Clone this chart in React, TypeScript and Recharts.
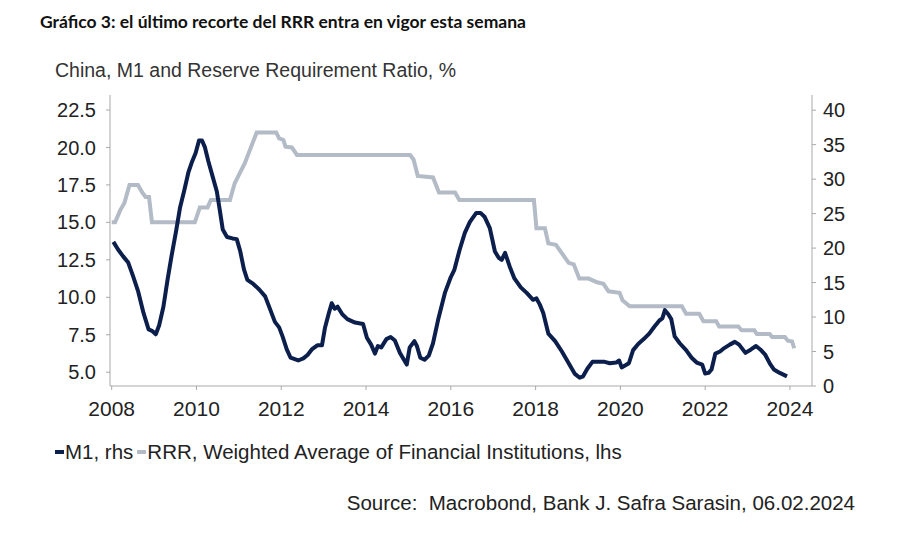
import React from "react";
import { LineChart, Line, XAxis, YAxis } from "recharts";

// M1 (rhs) – decimal year / % y/y
const m1Dates = [
  2008.04, 2008.15, 2008.27, 2008.39, 2008.5, 2008.62, 2008.75, 2008.87, 2008.95, 2009.04,
  2009.12, 2009.22, 2009.32, 2009.41, 2009.52, 2009.61, 2009.71, 2009.81, 2009.9, 2009.98,
  2010.06, 2010.13, 2010.2, 2010.28, 2010.38, 2010.48, 2010.55, 2010.62, 2010.72, 2010.85,
  2010.95, 2011.03, 2011.12, 2011.2, 2011.34, 2011.48, 2011.62, 2011.72, 2011.85, 2011.95,
  2012.03, 2012.13, 2012.22, 2012.4, 2012.52, 2012.62, 2012.72, 2012.85, 2012.96, 2013.03,
  2013.12, 2013.19, 2013.26, 2013.33, 2013.44, 2013.56, 2013.74, 2013.93, 2014.02, 2014.12,
  2014.21, 2014.28, 2014.36, 2014.48, 2014.58, 2014.68, 2014.8, 2014.96, 2015.03, 2015.14,
  2015.2, 2015.28, 2015.38, 2015.48, 2015.58, 2015.7, 2015.86, 2016.0, 2016.08, 2016.21,
  2016.33, 2016.45, 2016.6, 2016.7, 2016.8, 2016.92, 2017.04, 2017.13, 2017.2, 2017.28,
  2017.39, 2017.5, 2017.65, 2017.79, 2017.94, 2018.02, 2018.1, 2018.18, 2018.3, 2018.46,
  2018.62, 2018.77, 2018.92, 2019.04, 2019.12, 2019.22, 2019.34, 2019.5, 2019.63, 2019.75,
  2019.9, 2019.97, 2020.03, 2020.12, 2020.2, 2020.3, 2020.42, 2020.55, 2020.68, 2020.8,
  2020.92, 2020.99, 2021.05, 2021.13, 2021.2, 2021.28, 2021.4, 2021.55, 2021.68, 2021.8,
  2021.93, 2022.0, 2022.08, 2022.15, 2022.24, 2022.35, 2022.45, 2022.58, 2022.7, 2022.8,
  2022.95, 2023.08, 2023.2, 2023.3, 2023.42, 2023.53, 2023.62, 2023.76, 2023.93,
];
const m1Values = [
  20.9, 19.8, 18.8, 17.9, 16.0, 13.8, 10.6, 8.2, 8.0, 7.5,
  8.8, 11.5, 15.5, 18.8, 22.5, 25.8, 28.3, 31.0, 32.6, 33.8,
  35.6, 35.6, 34.6, 32.6, 30.4, 28.2, 25.5, 22.7, 21.6, 21.4,
  21.3, 19.6, 16.9, 15.4, 14.8, 14.0, 13.0, 11.4, 9.3, 8.5,
  7.2, 5.3, 4.1, 3.7, 4.0, 4.5, 5.3, 5.9, 5.9, 8.4,
  10.5, 12.0, 11.2, 11.5, 10.4, 9.7, 9.2, 9.0, 7.0, 6.0,
  4.7, 5.8, 5.6, 6.8, 7.1, 6.6, 4.8, 3.1, 5.6, 6.5,
  5.8, 4.1, 3.8, 4.4, 6.2, 9.6, 13.5, 15.8, 16.8, 19.8,
  22.2, 23.8, 25.1, 25.1, 24.5, 22.9, 19.5, 18.6, 18.3, 19.3,
  17.3, 15.6, 14.3, 13.5, 12.5, 12.7, 11.8, 10.6, 7.6, 6.5,
  5.0, 3.4, 1.8, 1.2, 1.4, 2.5, 3.5, 3.5, 3.5, 3.3,
  3.4, 3.7, 2.7, 3.0, 3.3, 5.2, 6.1, 6.8, 7.6, 8.6,
  9.5, 9.8, 11.0, 10.4, 9.7, 7.2, 6.2, 5.2, 4.1, 3.4,
  3.1, 1.8, 1.9, 2.4, 4.7, 5.0, 5.5, 6.0, 6.4, 6.0,
  4.8, 5.3, 5.8, 5.3, 4.5, 3.2, 2.4, 1.9, 1.4,
];

// RRR, weighted average (lhs)
const rrrDates = [
  2008.0, 2008.08, 2008.2, 2008.3, 2008.42, 2008.62, 2008.72, 2008.8, 2008.88, 2008.95,
  2009.96, 2010.08, 2010.26, 2010.34, 2010.79, 2010.9, 2011.14, 2011.42, 2011.88, 2011.95,
  2012.05, 2012.1, 2012.25, 2012.37, 2015.04, 2015.12, 2015.22, 2015.58, 2015.72, 2016.1,
  2016.2, 2017.96, 2018.02, 2018.22, 2018.3, 2018.48, 2018.58, 2018.78, 2018.9, 2019.03,
  2019.25, 2019.45, 2019.6, 2019.72, 2019.98, 2020.05, 2020.22, 2021.45, 2021.55, 2021.86,
  2021.96, 2022.26, 2022.33, 2022.78, 2022.86, 2023.16, 2023.22, 2023.52, 2023.58, 2023.88,
  2023.95, 2024.05, 2024.1,
];
const rrrValues = [
  15.0, 15.0, 15.8, 16.3, 17.5, 17.5, 17.0, 16.7, 16.7, 15.0,
  15.0, 16.0, 16.0, 16.5, 16.5, 17.6, 18.95, 21.0, 21.0, 20.6,
  20.5, 20.05, 20.0, 19.5, 19.5, 19.2, 18.1, 18.0, 17.0, 17.0,
  16.5, 16.5, 14.6, 14.6, 13.6, 13.5, 13.1, 12.3, 12.2, 11.25,
  11.25, 11.0, 10.9, 10.4, 10.3, 9.8, 9.4, 9.4, 8.9, 8.9,
  8.4, 8.4, 8.05, 8.05, 7.8, 7.8, 7.55, 7.55, 7.35, 7.35,
  7.1, 7.05, 6.6,
];

const xTicks = [2008, 2010, 2012, 2014, 2016, 2018, 2020, 2022, 2024];
const leftTicks = [5, 7.5, 10, 12.5, 15, 17.5, 20, 22.5];
const rightTicks = [0, 5, 10, 15, 20, 25, 30, 35, 40];

const seriesNames = ["M1, rhs", "RRR, Weighted Average of Financial Institutions, lhs"];

const m1Data = m1Dates.map((t, i) => ({ t, v: m1Values[i] }));
const rrrData = rrrDates.map((t, i) => ({ t, v: rrrValues[i] }));

const M1_COLOR = "#0c1f4c";
const RRR_COLOR = "#b3bbc6";
const AXIS_COLOR = "#a9a9a9";
const FONT = "'Liberation Sans', Arial, sans-serif";
const seriesColors = [M1_COLOR, RRR_COLOR];

export default function App() {
  return (
    <div style={{ position: "relative", width: 920, height: 536, background: "#fff" }}>
      <style>{`body{margin:0;background:#fff}`}</style>
      <div
        style={{
          position: "absolute",
          left: 40,
          top: 12,
          fontFamily: "Lato, 'Open Sans', sans-serif",
          fontWeight: 700,
          fontSize: 17.5,
          lineHeight: "20px",
          color: "#111",
          whiteSpace: "nowrap",
        }}
      >
        Gráfico 3: el último recorte del RRR entra en vigor esta semana
      </div>
      <div
        style={{
          position: "absolute",
          left: 55,
          top: 60,
          fontFamily: FONT,
          fontSize: 19.5,
          lineHeight: "20px",
          color: "#333",
          whiteSpace: "nowrap",
        }}
      >
        China, M1 and Reserve Requirement Ratio, %
      </div>
      <div style={{ position: "absolute", left: 0, top: 0 }}>
        <LineChart width={920} height={536} margin={{ top: 95, right: 48, bottom: 120, left: 0 }}>
          <XAxis
            dataKey="t"
            type="number"
            domain={[2007.96, 2024.52]}
            ticks={xTicks}
            allowDataOverflow
            stroke={AXIS_COLOR}
            tickLine={{ stroke: AXIS_COLOR }}
            tickSize={4}
            tickMargin={11}
            height={30}
            tick={{ fill: "#222", fontSize: 21, fontFamily: FONT }}
          />
          <YAxis
            yAxisId="left"
            orientation="left"
            width={110}
            domain={[4.08, 23.5]}
            ticks={leftTicks}
            allowDataOverflow
            stroke={AXIS_COLOR}
            tickSize={4}
            tickMargin={10}
            tickFormatter={(v: number) => v.toFixed(1)}
            tick={{ fill: "#222", fontSize: 20, fontFamily: FONT }}
          />
          <YAxis
            yAxisId="right"
            orientation="right"
            width={60}
            domain={[0, 42.2]}
            ticks={rightTicks}
            allowDataOverflow
            stroke={AXIS_COLOR}
            tickSize={4}
            tickMargin={7}
            tick={{ fill: "#222", fontSize: 20, fontFamily: FONT }}
          />
          <Line
            data={rrrData}
            dataKey="v"
            name={seriesNames[1]}
            yAxisId="left"
            stroke={RRR_COLOR}
            strokeWidth={4}
            dot={false}
            type="linear"
            isAnimationActive={false}
          />
          <Line
            data={m1Data}
            dataKey="v"
            name={seriesNames[0]}
            yAxisId="right"
            stroke={M1_COLOR}
            strokeWidth={4}
            dot={false}
            type="linear"
            strokeLinejoin="round"
            isAnimationActive={false}
          />
        </LineChart>
      </div>
      <div
        style={{
          position: "absolute",
          left: 55,
          top: 441,
          display: "flex",
          alignItems: "center",
          fontFamily: FONT,
          fontSize: 20.5,
          lineHeight: "22px",
          color: "#222",
          whiteSpace: "nowrap",
        }}
      >
        {seriesNames.map((n, i) => (
          <span key={n} style={{ display: "flex", alignItems: "center", marginRight: 4 }}>
            <span style={{ display: "inline-block", width: 9, height: 4, background: seriesColors[i], marginRight: 1 }} />
            <span>{n}</span>
          </span>
        ))}
      </div>
      <div
        style={{
          position: "absolute",
          right: 65,
          top: 492,
          fontFamily: FONT,
          fontSize: 20.5,
          lineHeight: "22px",
          color: "#222",
          whiteSpace: "pre",
        }}
      >
        {"Source:  Macrobond, Bank J. Safra Sarasin, 06.02.2024"}
      </div>
    </div>
  );
}
